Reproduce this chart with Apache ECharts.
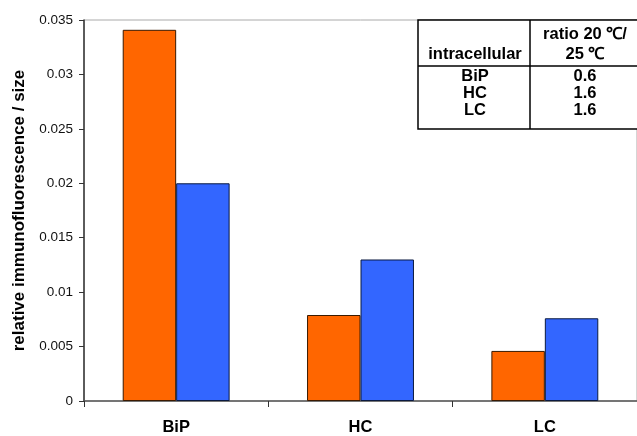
<!DOCTYPE html>
<html>
<head>
<meta charset="utf-8">
<script src="https://cdn.jsdelivr.net/npm/echarts@6/dist/echarts.min.js"></script>
<style>html,body{margin:0;padding:0;background:#fff;}#c{width:637px;height:436px;}</style>
</head>
<body>
<div id="c"></div>
<script>
var categories = ['BiP', 'HC', 'LC'];
var series20 = [0.0341, 0.0079, 0.0046];
var series25 = [0.0200, 0.0130, 0.0076];
var yTicks = {min: 0, max: 0.035, interval: 0.005};
var tableHeader = ['intracellular', 'ratio 20 \u2103/', '25 \u2103'];
var tableRows = ['BiP', 'HC', 'LC'];
var tableRatios = ['0.6', '1.6', '1.6'];

var chart = echarts.init(document.getElementById('c'));
var FONT = 'Liberation Sans, Arial, sans-serif';

var tl = 418, tr = 660, tt = 20, tb = 129, tcol = 530, thdiv = 66;
var graphics = [
  {type: 'rect', shape: {x: tl, y: tt, width: tr - tl, height: tb - tt}, style: {fill: '#fff', stroke: '#000', lineWidth: 1.5}, z: 10},
  {type: 'line', shape: {x1: tcol, y1: tt, x2: tcol, y2: tb}, style: {stroke: '#000', lineWidth: 1.5}, z: 11},
  {type: 'line', shape: {x1: tl, y1: thdiv, x2: tr, y2: thdiv}, style: {stroke: '#000', lineWidth: 1.5}, z: 11}
];
var tStyle = function (t, x, y) {
  return {type: 'text', x: x, y: y, z: 12, style: {text: t, fill: '#000', font: 'bold 16.5px ' + FONT, align: 'center', verticalAlign: 'middle'}};
};
graphics.push(tStyle(tableHeader[0], 475, 54));
graphics.push(tStyle(tableHeader[1], 585, 34));
graphics.push(tStyle(tableHeader[2], 585, 54));
var rowY = [76, 93, 110];
for (var i = 0; i < tableRows.length; i++) {
  graphics.push(tStyle(tableRows[i], 475, rowY[i]));
  graphics.push(tStyle(tableRatios[i], 585, rowY[i]));
}

chart.setOption({
  animation: false,
  backgroundColor: '#fff',
  grid: {left: 84, top: 20, right: -5, bottom: 33, show: true, borderColor: '#aaa', borderWidth: 1, backgroundColor: 'transparent'},
  xAxis: {
    type: 'category',
    data: categories,
    axisLine: {lineStyle: {color: '#555', width: 1.5}},
    axisTick: {show: true, length: 6, lineStyle: {color: '#333'}},
    axisLabel: {color: '#000', fontFamily: FONT, fontWeight: 'bold', fontSize: 16.5, margin: 18}
  },
  yAxis: {
    type: 'value',
    min: yTicks.min, max: yTicks.max, interval: yTicks.interval,
    name: 'relative immunofluorescence / size',
    nameLocation: 'middle',
    nameGap: 56,
    nameTextStyle: {color: '#000', fontFamily: FONT, fontWeight: 'bold', fontSize: 17},
    axisLine: {show: true, lineStyle: {color: '#333', width: 1.5}},
    axisTick: {show: true, length: 5, lineStyle: {color: '#333'}},
    splitLine: {show: false},
    axisLabel: {color: '#111', fontFamily: FONT, fontSize: 13.5, margin: 11,
      formatter: function (v) { return String(parseFloat(v.toFixed(3))); }}
  },
  series: [
    {type: 'bar', name: '20', data: series20, barGap: '0%', barCategoryGap: '42%',
     itemStyle: {color: '#FF6600', borderColor: '#3a1a00', borderWidth: 1}},
    {type: 'bar', name: '25', data: series25,
     itemStyle: {color: '#3366FF', borderColor: '#0a1a40', borderWidth: 1}}
  ],
  graphic: graphics
});
</script>
</body>
</html>
